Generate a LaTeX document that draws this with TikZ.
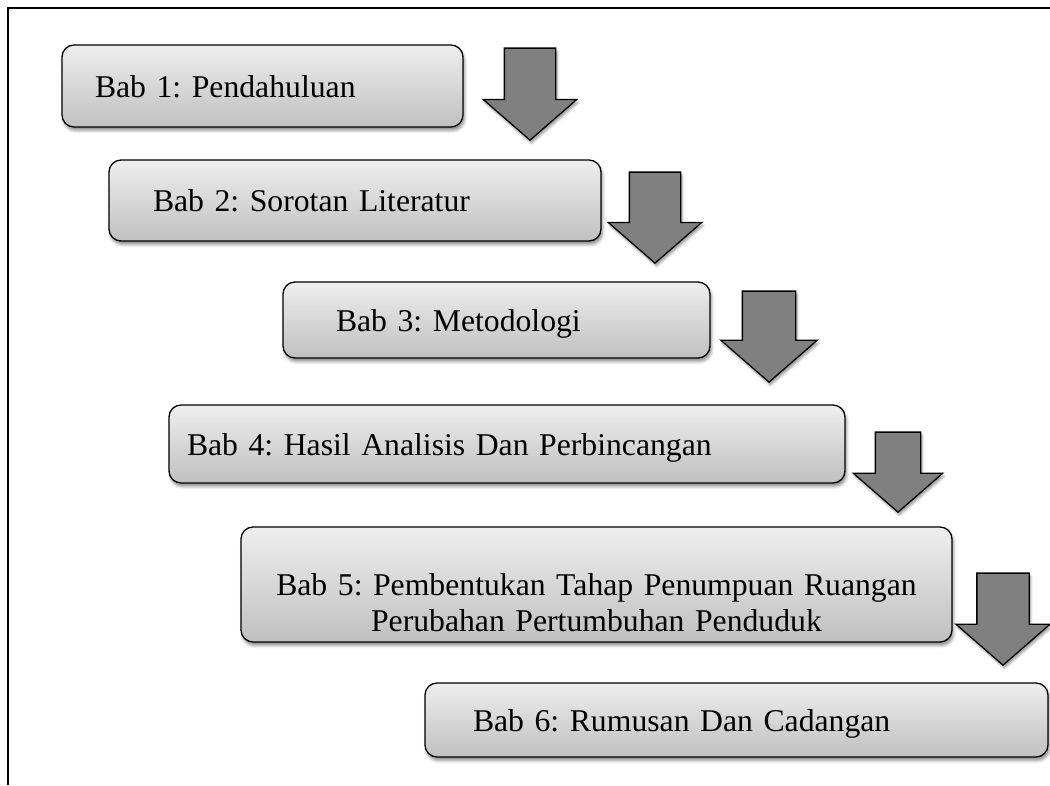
\documentclass[tikz,border=0pt]{standalone}
\usepackage{fontspec}
\setmainfont{Liberation Serif}
\frenchspacing
\usetikzlibrary{shapes.arrows,shadows.blur}
\definecolor{boxtop}{HTML}{EEEEEE}
\definecolor{boxbot}{HTML}{C0C0C0}
\definecolor{arrgrey}{HTML}{808080}
\newcommand{\babfont}{\fontsize{31.7}{36}\selectfont}
\tikzset{
  bab/.style={draw, line width=1.3pt, rounded corners=12pt,
    top color=boxtop, bottom color=boxbot, font=\babfont,
    align=left, inner ysep=0pt, text depth=0pt,
    blur shadow={shadow xshift=1.5pt, shadow yshift=-3.5pt,
      shadow blur radius=3pt, shadow opacity=45}},
  turun/.style={single arrow, shape border rotate=270, draw,
    line width=1.3pt, fill=arrgrey, anchor=tip,
    inner xsep=25pt, inner ysep=0pt, single arrow head extend=21pt,
    single arrow tip angle=98,
    blur shadow={shadow xshift=1.5pt, shadow yshift=-3pt,
      shadow blur radius=2.5pt, shadow opacity=40}}
}
\begin{document}
\begin{tikzpicture}[x=1pt, y=-1pt]
  \useasboundingbox (0,0) rectangle (1050,785);
  \draw[line width=2.2pt] (8,785) -- (8,8) -- (1050,8);

  \node[bab, minimum width=401pt, minimum height=82pt, text width=335pt, inner xsep=33pt]
    (bab1) at (262.5,86) {Bab 1: Pendahuluan};
  \node[bab, minimum width=492pt, minimum height=81pt, text width=404pt, inner xsep=44pt]
    (bab2) at (355,200.5) {Bab 2: Sorotan Literatur};
  \node[bab, minimum width=427pt, minimum height=76pt, text width=321pt, inner xsep=53pt]
    (bab3) at (496.5,320) {Bab 3: Metodologi};
  \node[bab, minimum width=676pt, minimum height=78pt, text width=640pt, inner xsep=18pt]
    (bab4) at (507,444) {Bab 4: Hasil Analisis Dan Perbincangan};
  \node[bab, minimum width=711pt, minimum height=115pt, text width=691pt, inner xsep=10pt, align=center]
    (bab5) at (596.5,584.5) {Bab 5: Pembentukan Tahap Penumpuan Ruangan\\Perubahan Pertumbuhan Penduduk};
  \node[bab, minimum width=623pt, minimum height=74pt, text width=527pt, inner xsep=48pt]
    (bab6) at (736.5,720) {Bab 6: Rumusan Dan Cadangan};

  \node[turun, minimum height=92pt] (panah1) at (530,141) {};
  \node[turun, minimum height=91pt] (panah2) at (655,264) {};
  \node[turun, minimum height=91pt, inner xsep=26pt, single arrow head extend=21.5pt] (panah3) at (769,383) {};
  \node[turun, minimum height=80pt, inner xsep=22pt, single arrow head extend=22pt] (panah4) at (898,513) {};
  \node[turun, minimum height=92pt, inner xsep=25.5pt] (panah5) at (1003,666) {};
\end{tikzpicture}
\end{document}
